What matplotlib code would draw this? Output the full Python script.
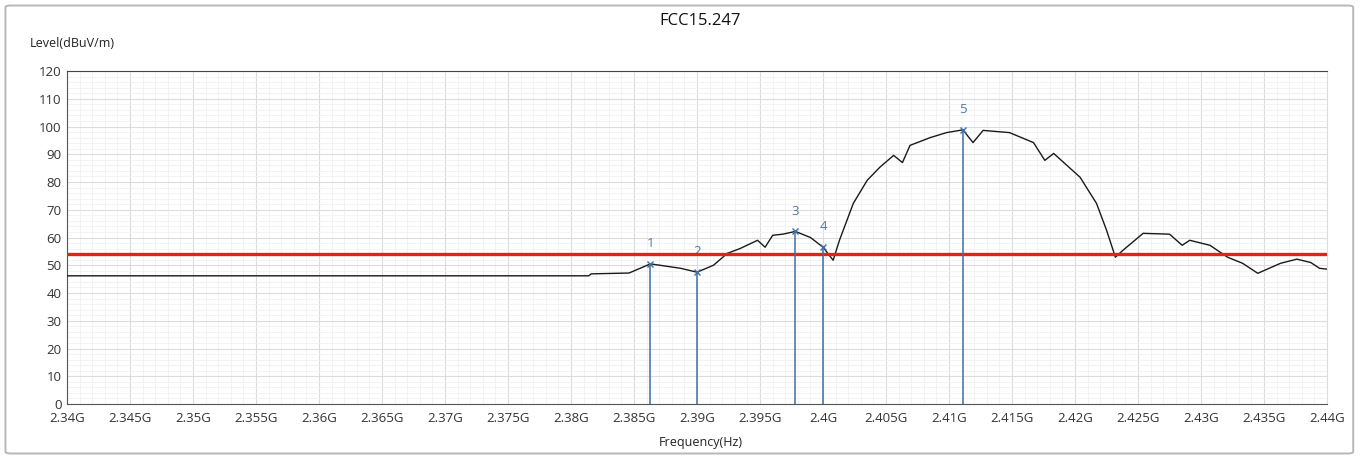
import matplotlib.pyplot as plt
from matplotlib.patches import FancyBboxPatch
from matplotlib.ticker import MultipleLocator, FuncFormatter

plt.rcParams["font.family"] = ["Open Sans", "DejaVu Sans"]

# --- data ---
freq_ghz = [2.3400, 2.3814, 2.3816, 2.3846, 2.3863, 2.3887, 2.3900, 2.3913,
            2.3924, 2.3934, 2.3948, 2.3954, 2.3960, 2.3968, 2.3978, 2.3990,
            2.4000, 2.4008, 2.4013, 2.4024, 2.4035, 2.4045, 2.4056, 2.4063,
            2.4069, 2.4085, 2.4098, 2.4111, 2.4119, 2.4127, 2.4148, 2.4167,
            2.4176, 2.4183, 2.4204, 2.4217, 2.4225, 2.4232, 2.4238, 2.4254,
            2.4275, 2.4285, 2.4291, 2.4307, 2.4321, 2.4333, 2.4345, 2.4363,
            2.4376, 2.4387, 2.4394, 2.4400]
level = [46.2, 46.2, 46.9, 47.2, 50.5, 48.9, 47.5, 50.0,
         54.3, 56.0, 59.0, 56.5, 60.8, 61.2, 62.2, 60.0,
         56.5, 51.8, 59.0, 72.3, 80.6, 85.3, 89.6, 87.0,
         93.2, 96.0, 97.8, 98.8, 94.2, 98.6, 97.8, 94.2,
         87.8, 90.3, 81.7, 72.3, 62.6, 52.9, 55.4, 61.5,
         61.2, 57.2, 59.0, 57.2, 52.9, 50.7, 47.1, 50.7,
         52.2, 51.0, 48.9, 48.6]
limit_level = 54.0

marker_ids = ["1", "2", "3", "4", "5"]
marker_freq = [2.3863, 2.3900, 2.3978, 2.4000, 2.4111]
marker_level = [50.5, 47.5, 62.2, 56.5, 98.8]

# --- figure ---
fig = plt.figure(figsize=(13.6, 4.59), dpi=100)
fig.patches.append(FancyBboxPatch((0.004, 0.012), 0.991, 0.976,
                                  boxstyle="round,pad=0,rounding_size=0.004",
                                  transform=fig.transFigure, facecolor="white",
                                  edgecolor="#b8b8b8", linewidth=1.4, zorder=-1))
ax = fig.add_axes([0.0493, 0.1198, 0.9265, 0.7255])

ax.plot(freq_ghz, level, color="#1a1a1a", linewidth=1.0, zorder=3)
ax.axhline(limit_level, color="#e8201c", linewidth=2.4, zorder=4)

marker_color = "#3f6fa6"
for mid, mf, ml in zip(marker_ids, marker_freq, marker_level):
    ax.plot([mf, mf], [0, ml], color=marker_color, linewidth=1.1, zorder=5)
    ax.plot(mf, ml, marker="x", color=marker_color, markersize=5, zorder=6)
    ax.text(mf, ml + 5, mid, color="#4a78b0", fontsize=9.5, ha="center", va="bottom")

ax.set_xlim(2.34, 2.44)
ax.set_ylim(0, 120)
ax.xaxis.set_major_locator(MultipleLocator(0.005))
ax.xaxis.set_minor_locator(MultipleLocator(0.001))
ax.yaxis.set_major_locator(MultipleLocator(10))
ax.yaxis.set_minor_locator(MultipleLocator(2))
ax.xaxis.set_major_formatter(FuncFormatter(lambda v, p: f"{v:.3f}".rstrip("0").rstrip(".") + "G"))

ax.grid(which="major", color="#dcdcdc", linewidth=0.8)
ax.grid(which="minor", color="#f1f1f1", linewidth=0.6)
ax.set_axisbelow(True)

ax.tick_params(which="both", length=0, labelsize=9.5, colors="#333333")
ax.tick_params(axis="x", pad=6)
ax.tick_params(axis="y", pad=4)
for side in ["left", "bottom"]:
    ax.spines[side].set_color("#555555")
ax.spines["top"].set_color("#444444")
ax.spines["right"].set_color("#dddddd")

fig.text(0.515, 0.955, "FCC15.247", ha="center", va="center", fontsize=12, color="#111111")
fig.text(0.022, 0.905, "Level(dBuV/m)", ha="left", va="center", fontsize=9, color="#222222")
fig.text(0.515, 0.037, "Frequency(Hz)", ha="center", va="center", fontsize=9, color="#222222")

fig.savefig("out.png", dpi=100)
